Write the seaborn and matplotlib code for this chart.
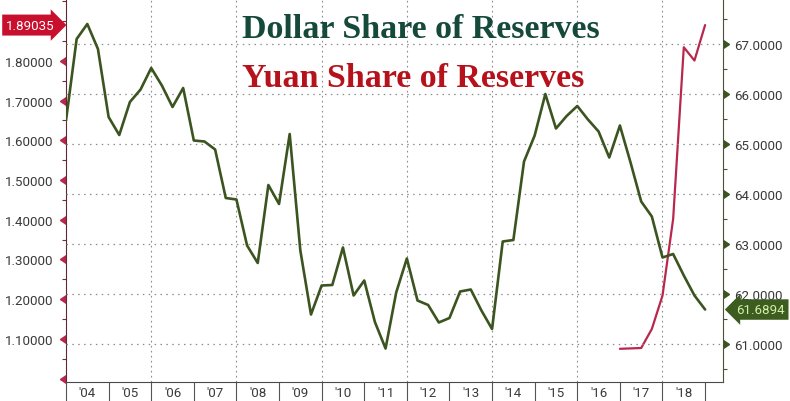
import numpy as np
import pandas as pd
import matplotlib
matplotlib.use("Agg")
import matplotlib.pyplot as plt
import seaborn as sns
from matplotlib.ticker import MultipleLocator, FormatStrFormatter
from matplotlib.markers import CARETLEFTBASE, CARETRIGHTBASE

# quarterly COFER shares
quarters = pd.period_range("2003Q4", "2018Q4", freq="Q")
dollar_share = [65.47, 67.10, 67.40, 66.90, 65.54, 65.18, 65.84, 66.09, 66.52, 66.17,
                65.74, 66.12, 65.07, 65.05, 64.89, 63.92, 63.89, 62.97, 62.62, 64.18,
                63.80, 65.20, 62.87, 61.59, 62.17, 62.18, 62.93, 61.97, 62.27, 61.44,
                60.91, 62.03, 62.71, 61.87, 61.78, 61.43, 61.52, 62.05, 62.09, 61.67,
                61.30, 63.05, 63.08, 64.65, 65.17, 66.00, 65.31, 65.56, 65.76, 65.49,
                65.25, 64.73, 65.37, 64.63, 63.85, 63.55, 62.73, 62.80, 62.37, 61.97,
                61.6894]

yuan_quarters = pd.period_range("2016Q4", "2018Q4", freq="Q")
yuan_share = [1.075, 1.076, 1.077, 1.125, 1.209, 1.402, 1.8345, 1.801, 1.89035]

years = list(range(2004, 2019))
year_labels = ["'04", "'05", "'06", "'07", "'08", "'09", "'10", "'11", "'12",
               "'13", "'14", "'15", "'16", "'17", "'18"]
left_ticks = [1.0, 1.1, 1.2, 1.3, 1.4, 1.5, 1.6, 1.7, 1.8]
right_ticks = [61, 62, 63, 64, 65, 66, 67]

GREEN = "#3b5420"
RED = "#b8284d"
DOLLAR_TITLE = "#15493a"
YUAN_TITLE = "#b5121b"
GRID = "#8c8c8c"
LABEL = "#3a3a3a"
FS = 9.6


def qpos(periods):
    # quarter end as decimal year
    return [p.year + p.quarter / 4 for p in periods]


df_dollar = pd.DataFrame({"t": qpos(quarters), "share": dollar_share})
df_yuan = pd.DataFrame({"t": qpos(yuan_quarters), "share": yuan_share})

sns.set_style("white")
plt.rcParams["font.family"] = ["Roboto", "DejaVu Sans"]

fig = plt.figure(figsize=(7.9, 4.02), dpi=100)
ax = fig.add_axes([66 / 790, 19 / 402, 657 / 790, 383 / 402])
ax2 = ax.twinx()

sns.lineplot(data=df_yuan, x="t", y="share", ax=ax, color=RED, lw=1.6)
sns.lineplot(data=df_dollar, x="t", y="share", ax=ax2, color=GREEN, lw=1.9)

ax.set_xlim(2004.0, 2019.42)
ax.set_ylim(0.9914, 1.956)
ax2.set_ylim(60.24, 67.9)
for a in (ax, ax2):
    a.set_xlabel("")
    a.set_ylabel("")

# spines
ax.spines["top"].set_visible(False)
ax.spines["right"].set_visible(False)
ax.spines["left"].set_color("#5a2a30")
ax.spines["bottom"].set_color("#4a4a4a")
for s in ("top", "left", "bottom"):
    ax2.spines[s].set_visible(False)
ax2.spines["right"].set_color("#4a5236")

# grid
ax2.grid(True, axis="y", which="major", ls=(0, (1.2, 3.5)), color=GRID, lw=0.9)
for yr in range(2006, 2019, 2):
    ax.axvline(yr, color=GRID, ls=(0, (1.5, 3)), lw=0.8, zorder=0)

# x axis: year boxes
ax.set_xticks(years + [2019])
ax.set_xticklabels([""] * (len(years) + 1))
ax.set_xticks([y + 0.5 for y in years], minor=True)
ax.set_xticklabels(year_labels, minor=True)
ax.tick_params(axis="x", which="major", length=19, width=0.8, color="#555555",
               direction="out", bottom=True)
ax.tick_params(axis="x", which="minor", length=0, pad=3, labelsize=FS,
               labelcolor=LABEL, bottom=True)

# left axis (yuan)
ax.set_yticks(left_ticks)
ax.set_yticklabels([""] + [f"{v:.5f}" for v in left_ticks[1:]])
ax.yaxis.set_minor_locator(MultipleLocator(0.05))
ax.tick_params(axis="y", which="major", length=0, pad=9, labelsize=FS,
               labelcolor=LABEL, left=True)
ax.tick_params(axis="y", which="minor", length=3, width=0.8, color="#7a2a3a",
               direction="out", left=True)
ax.plot(np.zeros(len(left_ticks)), left_ticks, ls="none", marker=CARETLEFTBASE,
        ms=5.5, color=RED, transform=ax.get_yaxis_transform(), clip_on=False)

# right axis (dollar)
ax2.set_yticks(right_ticks)
ax2.yaxis.set_major_formatter(FormatStrFormatter("%.4f"))
ax2.yaxis.set_minor_locator(MultipleLocator(0.5))
ax2.tick_params(axis="y", which="major", length=0, pad=8, labelsize=FS,
                labelcolor=LABEL, right=True)
ax2.tick_params(axis="y", which="minor", length=3, width=0.8, color="#4a5236",
                direction="out", right=True)
ax2.plot(np.ones(len(right_ticks)), right_ticks, ls="none", marker=CARETRIGHTBASE,
         ms=5.5, color=GREEN, transform=ax2.get_yaxis_transform(), clip_on=False)

# last value tags
ax.text(-0.017, yuan_share[-1], f"{yuan_share[-1]:.5f}", transform=ax.get_yaxis_transform(),
        ha="right", va="center", color="white", fontsize=FS, clip_on=False,
        bbox=dict(boxstyle="rarrow,pad=0.3", fc="#c8102e", ec="none"))
ax2.text(1.02, dollar_share[-1], f"{dollar_share[-1]:.4f}", transform=ax2.get_yaxis_transform(),
         ha="left", va="center", color="#d4f0a8", fontsize=FS, clip_on=False,
         bbox=dict(boxstyle="larrow,pad=0.28", fc="#3d5c1f", ec="none"))

# titles
fig.text(242 / 790, 1 - 38 / 402, "Dollar Share of Reserves", ha="left", va="baseline",
         fontsize=24.5, fontweight="bold", family="Liberation Serif", color=DOLLAR_TITLE)
fig.text(242 / 790, 1 - 87 / 402, "Yuan Share of Reserves", ha="left", va="baseline",
         fontsize=24.5, fontweight="bold", family="Liberation Serif", color=YUAN_TITLE)

fig.savefig("out.png", dpi=100)
